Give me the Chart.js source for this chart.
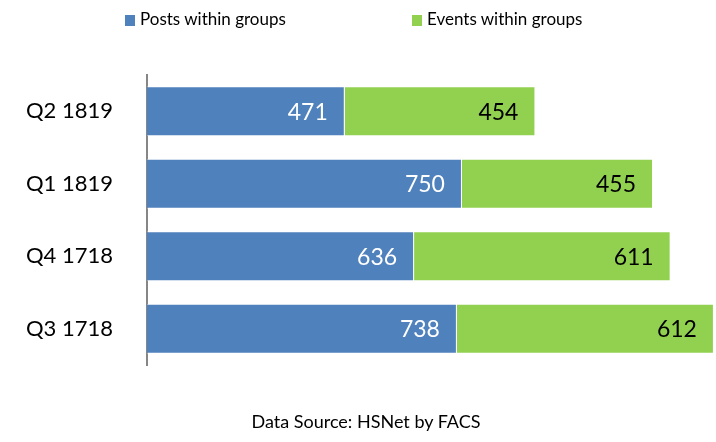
<!DOCTYPE html>
<html>
<head>
<meta charset="utf-8">
<script src="https://cdn.jsdelivr.net/npm/chart.js@4"></script>
<style>
  html, body { margin: 0; padding: 0; background: #fff; }
  #wrap { position: relative; width: 716px; height: 442px; font-family: Lato, 'Open Sans', sans-serif; }
  .leg { position: absolute; top: 9px; font-size: 17px; line-height: 20px; color: #000; }
  .leg i { display: inline-block; width: 10px; height: 11px; margin-right: 5px; vertical-align: -1px; }
  #note { position: absolute; left: 0; width: 732px; top: 411px; text-align: center; font-size: 18px; line-height: 20px; color: #000; }
</style>
</head>
<body>
<div id="wrap">
  <canvas id="myChart" width="716" height="442"></canvas>
  <div class="leg" style="left:125px"><i style="background:#4F81BD"></i>Posts within groups</div>
  <div class="leg" style="left:412px"><i style="background:#92D050"></i>Events within groups</div>
  <div id="note">Data Source: HSNet by FACS</div>
</div>
<script>
const labels = ['Q2 1819', 'Q1 1819', 'Q4 1718', 'Q3 1718'];
const posts = [471, 750, 636, 738];
const events = [454, 455, 611, 612];

// value labels drawn at the inner end of each segment
const endLabels = {
  id: 'endLabels',
  afterDatasetsDraw(chart) {
    const ctx = chart.ctx;
    ctx.save();
    ctx.font = '23px Lato, "Open Sans", sans-serif';
    ctx.textAlign = 'right';
    ctx.textBaseline = 'middle';
    chart.data.datasets.forEach((ds, i) => {
      chart.getDatasetMeta(i).data.forEach((bar, j) => {
        ctx.fillStyle = i === 0 ? '#ffffff' : '#000000';
        ctx.fillText(ds.data[j], bar.x - 17, bar.y + 1);
      });
    });
    ctx.restore();
  }
};

let myChart = new Chart(
  document.getElementById('myChart'),
  {
    type: 'bar',
    data: {
      labels: labels,
      datasets: [
        { label: 'Posts within groups', data: posts, backgroundColor: '#4F81BD', borderColor: 'rgba(255,255,255,0.5)', borderWidth: 1 },
        { label: 'Events within groups', data: events, backgroundColor: '#92D050', borderColor: 'rgba(255,255,255,0.5)', borderWidth: 1 }
      ]
    },
    options: {
      indexAxis: 'y',
      responsive: false,
      animation: false,
      layout: { padding: { top: 75, bottom: 77, left: 0, right: 0 } },
      categoryPercentage: 1,
      barPercentage: 0.69,
      plugins: {
        legend: { display: false },
        tooltip: { enabled: false }
      },
      scales: {
        x: { stacked: true, min: 0, max: 1355, display: false },
        y: {
          stacked: true,
          grid: { display: false },
          border: { display: true, color: '#868686', width: 2 },
          ticks: { color: '#000', padding: 26, font: { size: 22, family: 'Lato, "Open Sans", sans-serif' } },
          afterFit: s => { s.width = 147; }
        }
      }
    },
    plugins: [endLabels]
  }
);
</script>
</body>
</html>
